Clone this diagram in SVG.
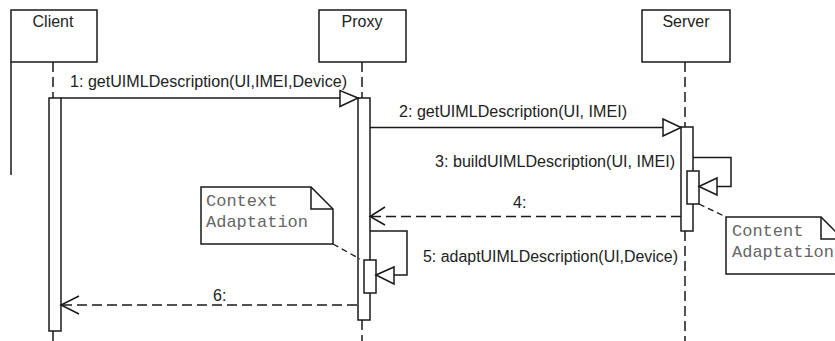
<svg xmlns="http://www.w3.org/2000/svg" width="835" height="341" viewBox="0 0 835 341">
<style>
.box{fill:#fff;stroke:#1a1a1a;stroke-width:1.5}
.life{fill:none;stroke:#1a1a1a;stroke-width:1.5;stroke-dasharray:10 5}
.act{fill:#fff;stroke:#1a1a1a;stroke-width:1.5}
.msg{fill:none;stroke:#1a1a1a;stroke-width:1.5}
.ret{fill:none;stroke:#1a1a1a;stroke-width:1.5;stroke-dasharray:10 5}
.head{fill:#fff;stroke:#1a1a1a;stroke-width:1.5}
.open{fill:none;stroke:#1a1a1a;stroke-width:1.5}
.anchor{fill:none;stroke:#1a1a1a;stroke-width:1.3;stroke-dasharray:6 4}
.t{font-family:"Liberation Sans",Arial,sans-serif;font-size:16px;fill:#222}
.n{font-family:"Liberation Mono","Courier New",monospace;font-size:17px;fill:#666}
</style>
<g id="client">
<rect class="box" x="11" y="10" width="86" height="52"/>
<text class="t" x="53" y="27" text-anchor="middle">Client</text>
<line class="msg" x1="11" y1="62" x2="11" y2="175"/>
<line class="life" x1="53" y1="62" x2="53" y2="98"/>
<rect class="act" x="49" y="98" width="12" height="233"/>
<line class="life" x1="53" y1="331" x2="53" y2="341"/>
</g>
<g id="proxy">
<rect class="box" x="319" y="10" width="87" height="52"/>
<text class="t" x="362" y="27" text-anchor="middle">Proxy</text>
<line class="life" x1="362" y1="62" x2="362" y2="98"/>
<rect class="act" x="358" y="98" width="12" height="222"/>
<line class="life" x1="362" y1="320" x2="362" y2="341"/>
<rect class="act" x="364" y="260" width="12" height="33"/>
</g>
<g id="server">
<rect class="box" x="642" y="10" width="88" height="52"/>
<text class="t" x="686" y="27" text-anchor="middle">Server</text>
<line class="life" x1="685" y1="62" x2="685" y2="127"/>
<rect class="act" x="681" y="127" width="12" height="104"/>
<line class="life" x1="685" y1="231" x2="685" y2="341"/>
<rect class="act" x="687" y="171" width="12" height="33"/>
</g>
<g id="note-context">
<path class="box" d="M201 187 H311 L333 209 V244 H201 Z"/>
<path class="msg" d="M311 187 V209 H333"/>
<text class="n" x="206" y="206">Context</text>
<text class="n" x="206" y="227">Adaptation</text>
</g>
<g id="note-content">
<path class="box" d="M726 217 H821 L843 239 V274 H726 Z"/>
<path class="msg" d="M821 217 V239 H843"/>
<text class="n" x="732" y="236">Content</text>
<text class="n" x="732" y="257">Adaptation</text>
</g>
<g id="connectors">
<line class="msg" x1="61" y1="98" x2="358" y2="98"/>
<path class="head" d="M358 98 L340 90.5 L340 106.5 Z"/>
<text class="t" x="70" y="87" textLength="277" lengthAdjust="spacingAndGlyphs">1: getUIMLDescription(UI,IMEI,Device)</text>
<line class="msg" x1="370" y1="127.5" x2="681" y2="127.5"/>
<path class="head" d="M681 127.5 L663 119 L663 136 Z"/>
<text class="t" x="399" y="117" textLength="228" lengthAdjust="spacingAndGlyphs">2: getUIMLDescription(UI, IMEI)</text>
<path class="msg" d="M693 157.5 H731 V186.5 H717"/>
<path class="head" d="M699 186.5 L717 178 L717 195 Z"/>
<text class="t" x="435" y="167" textLength="240" lengthAdjust="spacingAndGlyphs">3: buildUIMLDescription(UI, IMEI)</text>
<line class="ret" x1="681" y1="216.5" x2="370" y2="216.5"/>
<path class="open" d="M385 207 L370 216.5 L385 225"/>
<text class="t" x="513" y="208">4:</text>
<path class="msg" d="M370 231 H407 V275 H394"/>
<path class="head" d="M376 275 L394 267 L394 284 Z"/>
<text class="t" x="423" y="262" textLength="255" lengthAdjust="spacingAndGlyphs">5: adaptUIMLDescription(UI,Device)</text>
<line class="ret" x1="357" y1="305" x2="61" y2="305"/>
<path class="open" d="M79 296 L61 305 L79 314"/>
<text class="t" x="213" y="301">6:</text>
<line class="anchor" x1="333" y1="244" x2="360" y2="259"/>
<line class="anchor" x1="699" y1="204" x2="726" y2="217"/>
</g>
</svg>
